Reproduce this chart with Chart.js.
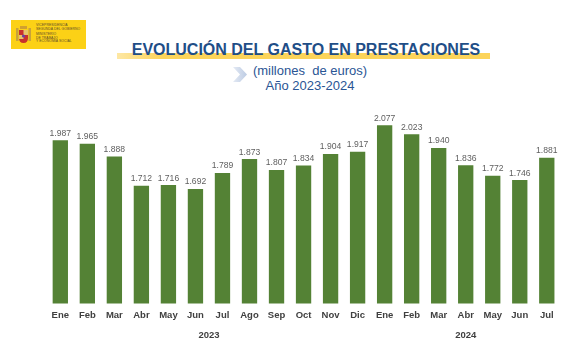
<!DOCTYPE html>
<html>
<head>
<meta charset="utf-8">
<script src="https://cdn.jsdelivr.net/npm/chart.js@4"></script>
<style>
  html, body { margin: 0; padding: 0; background: #ffffff; }
  #wrap { position: relative; width: 575px; height: 356px; overflow: hidden; font-family: "Liberation Sans", Arial, sans-serif; }
  #c { position: absolute; left: 0; top: 0; }
  .logo { position: absolute; left: 11px; top: 20px; width: 75px; height: 29px; background: #fcd116; }
  .logo .shield { position: absolute; left: 4px; top: 5px; width: 17px; height: 20px; }
  .logo .txt { position: absolute; left: 25px; color: #5a4a2a; font-size: 3.4px; line-height: 3.6px; white-space: nowrap; letter-spacing: 0.05px; }
  .band { position: absolute; left: 117px; top: 53px; width: 373px; height: 6px;
          background: linear-gradient(to right, rgba(252,212,90,0.55), #fcd45a 12%, #fcd45a 100%); }
  .title { position: absolute; left: 106px; width: 400px; top: 42px; text-align: center; font-weight: bold;
           font-size: 16px; line-height: 16px; color: #1f4e87; white-space: nowrap; }
  .sub { position: absolute; left: 210px; width: 200px; text-align: center; font-size: 13px; line-height: 13px;
         color: #2a5594; white-space: nowrap; }
  .chev { position: absolute; left: 232px; top: 66px; }
</style>
</head>
<body>
<div id="wrap">
  <div class="logo">
    <svg class="shield" viewBox="0 0 17 20" width="17" height="20">
      <rect x="1" y="3" width="2.5" height="13" fill="#c8a23c"/>
      <rect x="13.5" y="3" width="2.5" height="13" fill="#c8a23c"/>
      <rect x="5" y="1" width="7" height="3" fill="#d0a030"/>
      <path d="M4 5 H13 V13 Q13 18 8.5 18 Q4 18 4 13 Z" fill="#c8302c"/>
      <rect x="8.5" y="5" width="4.5" height="5" fill="#e6c46a"/>
      <rect x="4" y="10" width="4.5" height="4" fill="#e6c46a"/>
      <circle cx="8.5" cy="11" r="1.6" fill="#6d3fa0"/>
    </svg>
    <div class="txt" style="top:4px">VICEPRESIDENCIA<br>SEGUNDA DEL GOBIERNO</div>
    <div class="txt" style="top:13px">MINISTERIO<br>DE TRABAJO<br>Y ECONOMÍA SOCIAL</div>
  </div>
  <div class="band"></div>
  <div class="title">EVOLUCIÓN DEL GASTO EN PRESTACIONES</div>
  <svg class="chev" width="17" height="17" viewBox="0 0 17 17">
    <defs>
      <linearGradient id="cg" x1="0" y1="0" x2="1" y2="0">
        <stop offset="0" stop-color="#e4eaf4"/>
        <stop offset="1" stop-color="#bccbe3"/>
      </linearGradient>
    </defs>
    <polygon points="1,1 8,1 15,8.5 8,16 1,16 8,8.5" fill="url(#cg)"/>
  </svg>
  <div class="sub" style="top:64px">(millones&nbsp; de euros)</div>
  <div class="sub" style="top:79px">Año 2023-2024</div>
  <canvas id="c" width="575" height="356"></canvas>
</div>
<script>
// ---- data ----
const months = ['Ene','Feb','Mar','Abr','May','Jun','Jul','Ago','Sep','Oct','Nov','Dic',
                'Ene','Feb','Mar','Abr','May','Jun','Jul'];
const values = [1987,1965,1888,1712,1716,1692,1789,1873,1807,1834,1904,1917,
                2077,2023,1940,1836,1772,1746,1881];
const years = ['2023','2024'];
const monthsPerYear = [12,7];

function fmt(v){
  const s = String(v);
  return s.length > 3 ? s.slice(0, -3) + '.' + s.slice(-3) : s;
}

const FONT = '"Liberation Sans", Arial, sans-serif';

const valueLabels = {
  id: 'valueLabels',
  afterDatasetsDraw(chart){
    const ctx = chart.ctx;
    const meta = chart.getDatasetMeta(0);
    ctx.save();
    ctx.font = '8.6px ' + FONT;
    ctx.fillStyle = '#5f5f5f';
    ctx.textAlign = 'center';
    ctx.textBaseline = 'alphabetic';
    meta.data.forEach((bar, i) => {
      ctx.fillText(fmt(values[i]), bar.x, bar.y - 4.5);
    });
    ctx.restore();
  }
};

const yearLabels = {
  id: 'yearLabels',
  afterDraw(chart){
    const ctx = chart.ctx;
    const xs = chart.scales.x;
    ctx.save();
    ctx.font = 'bold 9.5px ' + FONT;
    ctx.fillStyle = '#404040';
    ctx.textAlign = 'center';
    ctx.textBaseline = 'middle';
    let start = 0;
    years.forEach((y, k) => {
      const end = start + monthsPerYear[k] - 1;
      const cx = (xs.getPixelForValue(start) + xs.getPixelForValue(end)) / 2;
      ctx.fillText(y, cx, xs.bottom - 21);
      start = end + 1;
    });
    ctx.restore();
  }
};

new Chart(document.getElementById('c'), {
  type: 'bar',
  data: {
    labels: months,
    datasets: [{
      data: values,
      backgroundColor: '#548235',
      borderWidth: 0,
      barPercentage: 0.567,
      categoryPercentage: 1
    }]
  },
  options: {
    responsive: false,
    animation: false,
    devicePixelRatio: 1,
    layout: { padding: { left: 46.8, right: 14.7, top: 104.9, bottom: 0 } },
    plugins: { legend: { display: false }, tooltip: { enabled: false } },
    scales: {
      x: {
        grid: { display: false, drawTicks: false },
        border: { display: false },
        ticks: {
          autoSkip: false, maxRotation: 0, minRotation: 0, padding: 6.5,
          color: '#404040',
          font: { family: FONT, size: 9.5, weight: 'bold' }
        },
        afterFit(scale){ scale.height = 52.5; }
      },
      y: {
        display: false,
        min: 1000,
        max: 2200
      }
    }
  },
  plugins: [valueLabels, yearLabels]
});
</script>
</body>
</html>
